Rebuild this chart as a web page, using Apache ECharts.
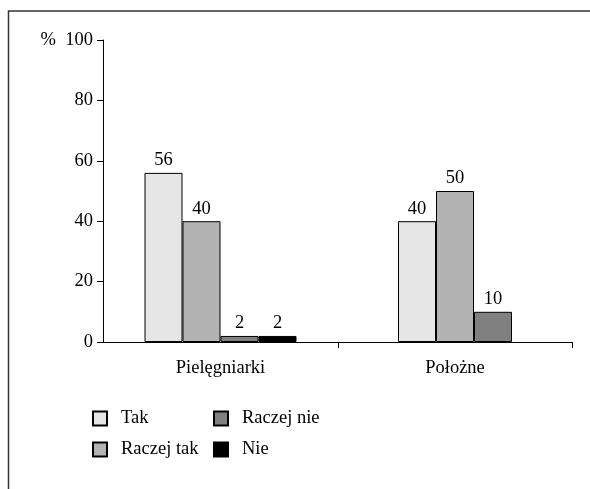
<!DOCTYPE html>
<html>
<head>
<meta charset="utf-8">
<script src="https://cdn.jsdelivr.net/npm/echarts@6/dist/echarts.min.js"></script>
<style>
html, body { margin: 0; padding: 0; background: #fff; }
#main { width: 590px; height: 489px; }
</style>
</head>
<body>
<div id="main"></div>
<script>
// dane z wykresu (%)
const groups = ['Pielęgniarki', 'Położne']
const seriesNames = ['Tak', 'Raczej tak', 'Raczej nie', 'Nie']
const tak = [56, 40]
const raczejTak = [40, 50]
const raczejNie = [2, 10]
const nie = [2, null]
const yTicks = [0, 20, 40, 60, 80, 100]

const values = [tak, raczejTak, raczejNie, nie]
const colors = ['#e6e6e6', '#b3b3b3', '#808080', '#000000']
const font = 'Liberation Serif'
const fs = 18.5

const chart = echarts.init(document.getElementById('main'))

// jedna siatka na grupę, bo Położne mają tylko 3 słupki
const grids = [
    { left: 103, right: 252, top: 40, bottom: 147 },
    { left: 338, right: 18, top: 40, bottom: 147 }
]
const xAxes = groups.map((g, i) => ({
    type: 'category',
    gridIndex: i,
    data: [g],
    axisLine: { lineStyle: { color: '#000', width: 1 } },
    axisTick: { show: i === 1, length: 6, lineStyle: { color: '#000' } },
    axisLabel: { color: '#000', fontFamily: font, fontSize: fs, margin: 17 }
}))
const yAxes = groups.map((g, i) => ({
    type: 'value',
    gridIndex: i,
    min: yTicks[0],
    max: yTicks[yTicks.length - 1],
    interval: 20,
    show: i === 0,
    splitLine: { show: false },
    axisLine: { show: true, lineStyle: { color: '#000', width: 1 } },
    axisTick: { show: true, length: 6, lineStyle: { color: '#000' } },
    axisLabel: {
        color: '#000',
        fontFamily: font,
        fontSize: fs,
        margin: 10,
        formatter: (v) => (v === 100 ? '%  100' : String(v))
    }
}))

const series = []
groups.forEach((g, gi) => {
    values.forEach((vals, si) => {
        if (vals[gi] === null) return
        series.push({
            name: seriesNames[si],
            type: 'bar',
            xAxisIndex: gi,
            yAxisIndex: gi,
            data: [vals[gi]],
            barWidth: 38,
            barGap: '0%',
            itemStyle: { color: colors[si], borderColor: '#000', borderWidth: 1 },
            label: {
                show: true,
                position: 'top',
                distance: 3,
                color: '#000',
                fontFamily: font,
                fontSize: fs
            }
        })
    })
})

const legendBase = {
    orient: 'vertical',
    top: 409,
    padding: 0,
    itemWidth: 14,
    itemHeight: 14,
    itemGap: 12,
    icon: 'rect',
    textStyle: { color: '#000', fontFamily: font, fontSize: fs, padding: [0, 0, 0, 9] }
}

chart.setOption({
    animation: false,
    backgroundColor: '#fff',
    grid: grids,
    xAxis: xAxes,
    yAxis: yAxes,
    legend: [
        Object.assign({}, legendBase, { left: 92, data: seriesNames.slice(0, 2) }),
        Object.assign({}, legendBase, { left: 213, data: seriesNames.slice(2) })
    ],
    graphic: [
        {
            type: 'polyline',
            shape: { points: [[8.5, 489], [8.5, 11], [590, 11]] },
            style: { fill: null, stroke: '#333', lineWidth: 1.5 }
        }
    ],
    series: series
})
</script>
</body>
</html>
